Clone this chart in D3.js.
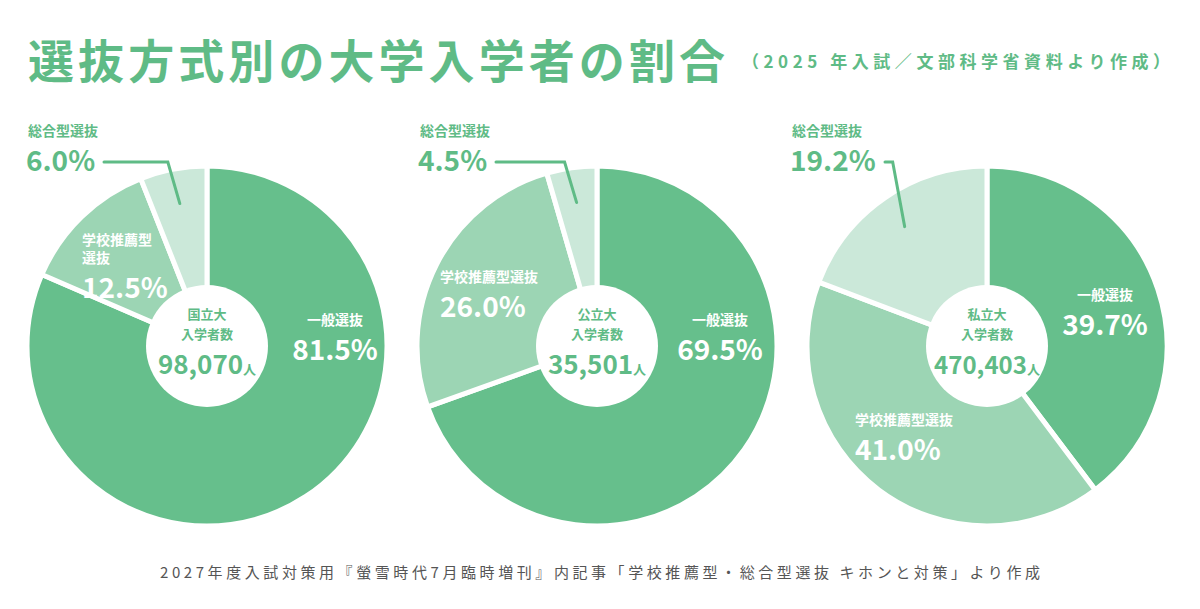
<!DOCTYPE html>
<html><head><meta charset="utf-8">
<script src="https://cdn.jsdelivr.net/npm/d3@7"></script>
<style>body{margin:0;background:#fff}text{font-family:"Noto Sans CJK JP","Noto Sans",sans-serif;font-weight:700}</style>
</head><body><svg id="c" width="1200" height="609"></svg>
<script>
const categories = ["一般選抜","学校推薦型選抜","総合型選抜"];
const universities = ["国立大","公立大","私立大"];
const totals = ["98,070","35,501","470,403"];
const kokuritsu = [81.5,12.5,6.0];
const kouritsu = [69.5,26.0,4.5];
const shiritsu = [39.7,41.0,19.2];
const colors = ["#66bf8c","#9cd5b4","#cbe8d9"];
const svg = d3.select("#c");
const G="#5fbb86";
svg.append("text").attr("x",28).attr("y",78).attr("font-size",46).attr("fill",G).attr("textLength",697).attr("lengthAdjust","spacing").text("選抜方式別の大学入学者の割合");
svg.append("text").attr("x",742).attr("y",68).attr("font-size",17).attr("fill",G).attr("textLength",428).attr("lengthAdjust","spacing").text("（2025 年入試／文部科学省資料より作成）");
svg.append("text").attr("x",160).attr("y",578).attr("font-size",15).attr("fill","#555").style("font-weight",400).attr("textLength",880).attr("lengthAdjust","spacing")
 .text("2027年度入試対策用『螢雪時代7月臨時増刊』内記事「学校推薦型・総合型選抜 キホンと対策」より作成");
const datasets=[kokuritsu,kouritsu,shiritsu];
const centers=[207,597,987];
const cy=346,R=180,r0=61;
const pie=d3.pie().sort(null);
const arc=d3.arc().innerRadius(0).outerRadius(R);
const lab=[
 {g:[335,325],rec:[82,245],recLines:["学校推薦型","選抜"],comp:[28,136]},
 {g:[720,325],rec:[440,282],recLines:["学校推薦型選抜"],comp:[420,136]},
 {g:[1105,300],rec:[855,425],recLines:["学校推薦型選抜"],comp:[792,136]}
];
datasets.forEach((vals,i)=>{
 const g=svg.append("g").attr("transform",`translate(${centers[i]},${cy})`);
 const arcs=pie(vals);
 g.selectAll("path").data(arcs).join("path").attr("d",arc).attr("fill",(d,j)=>colors[j]).attr("stroke","#fff").attr("stroke-width",5).attr("stroke-linejoin","round");
 g.append("circle").attr("r",r0).attr("fill","#fff");
 g.append("text").attr("y",-27).attr("text-anchor","middle").attr("font-size",13).attr("fill",G).text(universities[i]);
 g.append("text").attr("y",-7).attr("text-anchor","middle").attr("font-size",13).attr("fill",G).text("入学者数");
 const t=g.append("text").attr("y",28).attr("text-anchor","middle").attr("fill",G);
 t.append("tspan").attr("font-size",i==2?24:26).text(totals[i]);
 t.append("tspan").attr("font-size",13).text("人");
 const L=lab[i];
 svg.append("text").attr("x",L.g[0]).attr("y",L.g[1]).attr("text-anchor","middle").attr("font-size",14).attr("fill","#fff").text(categories[0]);
 svg.append("text").attr("x",L.g[0]).attr("y",L.g[1]+35).attr("text-anchor","middle").attr("font-size",28).attr("fill","#fff").text(vals[0].toFixed(1)+"%");
 L.recLines.forEach((s,k)=>svg.append("text").attr("x",L.rec[0]).attr("y",L.rec[1]+k*18).attr("font-size",14).attr("fill","#fff").text(s));
 svg.append("text").attr("x",L.rec[0]).attr("y",L.rec[1]+(L.recLines.length-1)*18+35).attr("font-size",28).attr("fill","#fff").text(vals[1].toFixed(1)+"%");
 svg.append("text").attr("x",L.comp[0]).attr("y",L.comp[1]).attr("font-size",14).attr("fill",G).text(categories[2]);
 const pct=vals[2].toFixed(1)+"%";
 svg.append("text").attr("x",L.comp[0]-2).attr("y",L.comp[1]+35).attr("font-size",28).attr("fill",G).text(pct);
 const a=arcs[2]; const mid=(a.startAngle+a.endAngle)/2; const rr=R-35;
 const tx=centers[i]+Math.sin(mid)*rr, ty=cy-Math.cos(mid)*rr;
 const sx=L.comp[0]+pct.length*17+8, yy=L.comp[1]+26;
 const kx=tx-12;
 svg.append("path").attr("d",`M${sx},${yy}H${kx}L${tx},${ty}`).attr("fill","none").attr("stroke",G).attr("stroke-width",3).attr("stroke-linecap","round");
});
</script></body></html>
